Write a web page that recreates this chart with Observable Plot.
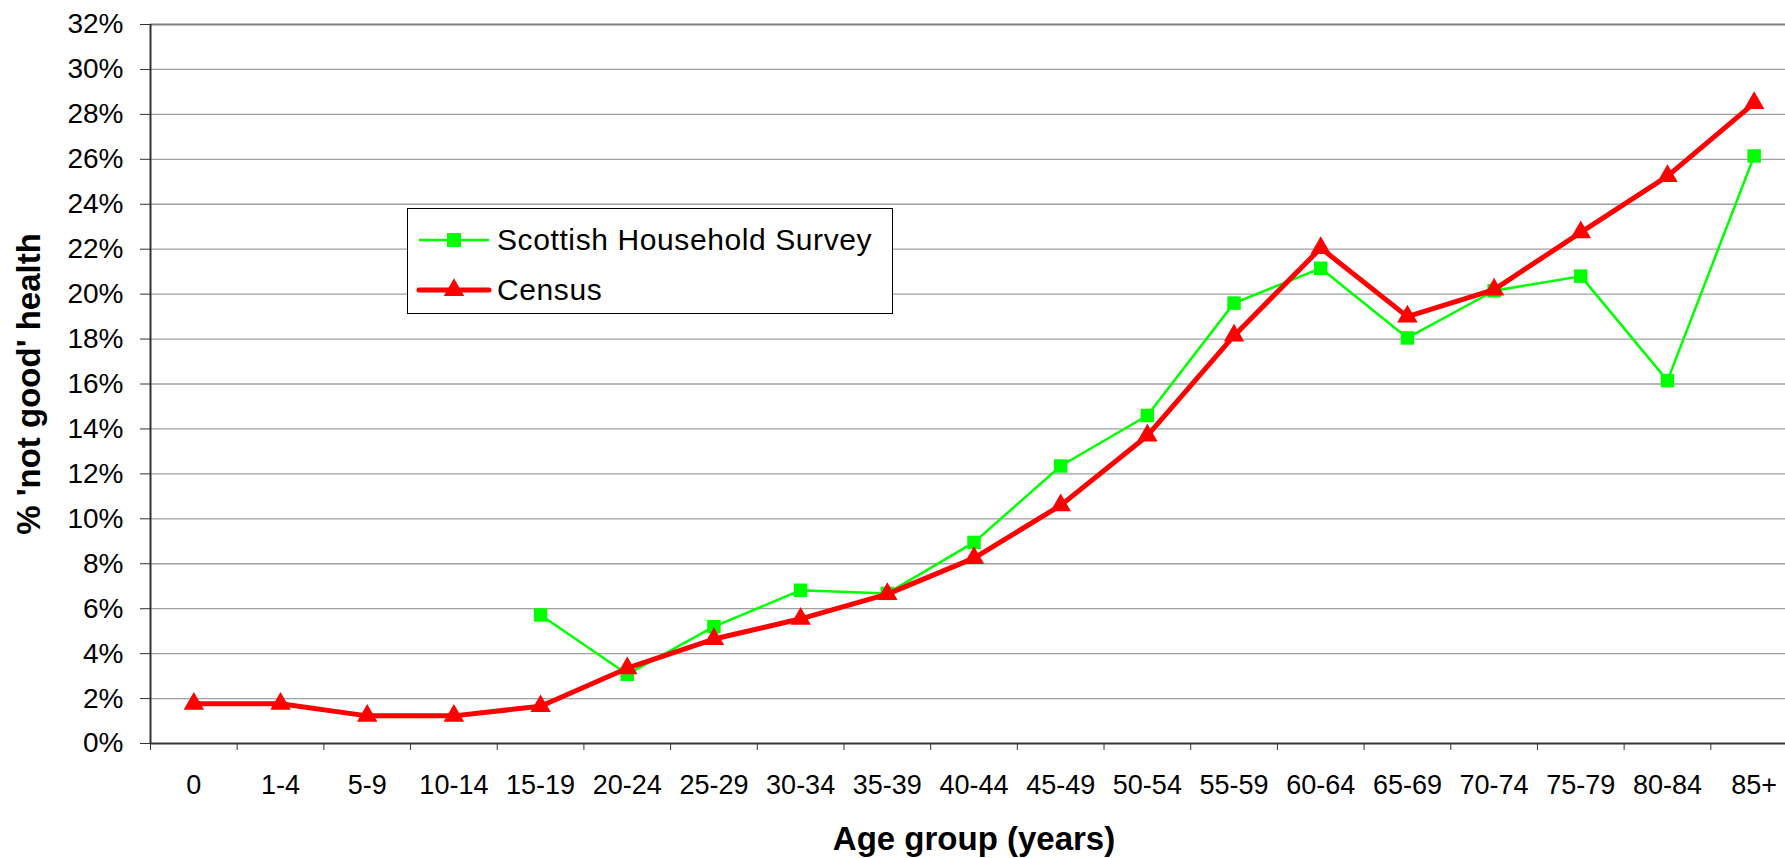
<!DOCTYPE html>
<html><head><meta charset="utf-8">
<script src="https://cdn.jsdelivr.net/npm/d3@7"></script>
<script src="https://cdn.jsdelivr.net/npm/@observablehq/plot@0.6"></script>
<style>
html,body{margin:0;padding:0;background:#fff;overflow:hidden;width:1785px;height:858px;}
#wrap{position:relative;width:1785px;height:858px;overflow:hidden;}
#wrap > svg{max-width:none !important;height:858px !important;width:1800px !important;display:block;}
#legend{position:absolute;left:407px;top:208px;width:484px;height:104px;border:1.5px solid #000;background:#fff;font-family:"Liberation Sans",Arial,sans-serif;color:#000;}
#legend svg{position:absolute;left:0;top:0;}
.lt{position:absolute;left:89px;font-size:30px;letter-spacing:0.6px;line-height:1;}
</style></head><body><div id="wrap"></div>
<script>
const ageGroups = ["0","1-4","5-9","10-14","15-19","20-24","25-29","30-34","35-39","40-44","45-49","50-54","55-59","60-64","65-69","70-74","75-79","80-84","85+"];
const census = [1.77,1.77,1.23,1.23,1.66,3.35,4.65,5.55,6.65,8.25,10.6,13.7,18.15,22.05,19.0,20.2,22.75,25.25,28.5];
const survey = [null,null,null,null,5.72,3.08,5.2,6.82,6.68,8.95,12.35,14.6,19.6,21.15,18.05,20.15,20.8,16.15,26.15];
const yTicks = d3.range(0, 33, 2);
const seriesNames = ["Scottish Household Survey","Census"];
const xTitle = "Age group (years)";
const yTitle = "% 'not good' health";

const rows = ageGroups.map((g, i) => ({i, g, census: census[i], survey: survey[i]}));
const pos = d => d.i + 0.5;

const plot = Plot.plot({
  width: 1800, height: 858,
  marginLeft: 150, marginRight: 3, marginTop: 24, marginBottom: 115,
  x: {domain: [0, ageGroups.length], axis: null},
  y: {domain: [0, 32], axis: null},
  style: {fontFamily: "'Liberation Sans', Arial, sans-serif", background: "white", color: "#000", overflow: "visible"},
  marks: [
    Plot.ruleY(yTicks.filter(d => d > 0 && d < 32), {stroke: "#a0a0a0", strokeWidth: 1.3}),
    Plot.ruleY([32], {stroke: "#808080", strokeWidth: 2.2}),
    Plot.axisY({ticks: yTicks, tickSize: 10, tickPadding: 17, tickFormat: d => d + "%", fontSize: 28, stroke: "#333", label: null}),
    Plot.axisX({ticks: d3.range(0, ageGroups.length + 1), tickSize: 7, tickFormat: () => "", stroke: "#333", label: null}),
    Plot.axisX({ticks: ageGroups.map((_, i) => i + 0.5), tickSize: 0, tickPadding: 31, tickFormat: d => ageGroups[Math.floor(d)], fontSize: 27, label: null}),
    Plot.ruleX([0], {stroke: "#333", strokeWidth: 2}),
    Plot.ruleY([0], {stroke: "#333", strokeWidth: 2}),
    Plot.line(rows.filter(d => d.survey != null), {x: pos, y: "survey", stroke: "#00ff00", strokeWidth: 2.5}),
    Plot.dot(rows.filter(d => d.survey != null), {x: pos, y: "survey", symbol: "square", r: 7.6, fill: "#00ff00", stroke: "none"}),
    Plot.line(rows, {x: pos, y: "census", stroke: "#ff0000", strokeWidth: 5, strokeLinejoin: "round"}),
    Plot.dot(rows, {x: pos, y: "census", symbol: "triangle", r: 7.6, fill: "#ff0000", stroke: "none"}),
    Plot.text([xTitle], {frameAnchor: "bottom", dy: 96, fontSize: 33, fontWeight: "bold", textAnchor: "middle", lineAnchor: "middle"}),
    Plot.text([yTitle], {frameAnchor: "left", dx: -121, rotate: -90, fontSize: 33, fontWeight: "bold", textAnchor: "middle", lineAnchor: "middle"})
  ]
});
const wrap = document.getElementById("wrap");
wrap.appendChild(plot);

// legend overlay
const leg = document.createElement("div");
leg.id = "legend";
const svg = d3.create("svg").attr("width", 484).attr("height", 104);
const rowY = [31, 81];
svg.append("line").attr("x1", 11).attr("x2", 81).attr("y1", rowY[0]).attr("y2", rowY[0]).attr("stroke", "#00ff00").attr("stroke-width", 2.5);
svg.append("rect").attr("x", 46 - 7).attr("y", rowY[0] - 7).attr("width", 14).attr("height", 14).attr("fill", "#00ff00");
svg.append("line").attr("x1", 11).attr("x2", 81).attr("y1", rowY[1]).attr("y2", rowY[1]).attr("stroke", "#ff0000").attr("stroke-width", 5).attr("stroke-linecap", "round");
svg.append("path").attr("transform", `translate(46,${rowY[1]})`).attr("d", d3.symbol(d3.symbolTriangle, Math.PI * 7.6 * 7.6)()).attr("fill", "#ff0000");
leg.appendChild(svg.node());
seriesNames.forEach((n, k) => {
  const t = document.createElement("div");
  t.className = "lt";
  t.textContent = n;
  t.style.top = (rowY[k] - 15) + "px";
  leg.appendChild(t);
});
wrap.appendChild(leg);
</script>
</body></html>
